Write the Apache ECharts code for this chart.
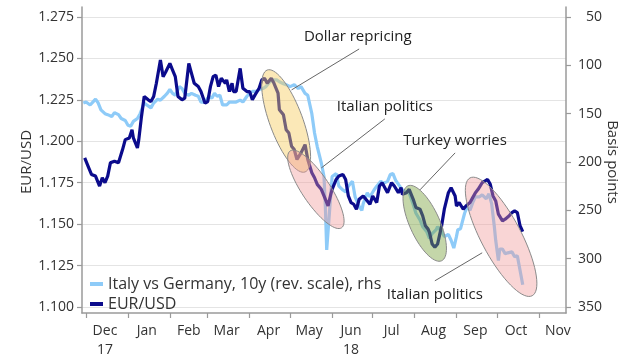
<!DOCTYPE html>
<html><head><meta charset="utf-8">
<script src="https://cdn.jsdelivr.net/npm/echarts@6/dist/echarts.min.js"></script>
<style>html,body{margin:0;padding:0;background:#fff}#c{width:640px;height:360px}</style>
</head><body><div id="c"></div>
<script>
// ---- data ----
const eurDates = ['2017-11-30','2017-12-03','2017-12-05','2017-12-08','2017-12-11','2017-12-13','2017-12-15','2017-12-17','2017-12-19','2017-12-22','2017-12-25','2017-12-28','2017-12-30',
'2018-01-02','2018-01-04','2018-01-05','2018-01-08','2018-01-09','2018-01-11','2018-01-13','2018-01-16','2018-01-18','2018-01-20','2018-01-22','2018-01-25','2018-01-27','2018-01-29',
'2018-02-01','2018-02-03','2018-02-05','2018-02-07','2018-02-10','2018-02-12','2018-02-15','2018-02-17','2018-02-19','2018-02-22','2018-02-24','2018-02-27',
'2018-03-01','2018-03-03','2018-03-05','2018-03-07','2018-03-09','2018-03-11','2018-03-14','2018-03-15','2018-03-17','2018-03-19','2018-03-20','2018-03-22','2018-03-25','2018-03-27','2018-03-30',
'2018-04-01','2018-04-03','2018-04-05','2018-04-08','2018-04-10','2018-04-12','2018-04-14','2018-04-17','2018-04-19','2018-04-22','2018-04-23','2018-04-26','2018-04-28','2018-04-30',
'2018-05-02','2018-05-04','2018-05-06','2018-05-09','2018-05-12','2018-05-14','2018-05-17','2018-05-19','2018-05-21','2018-05-24','2018-05-26','2018-05-29','2018-05-31',
'2018-06-01','2018-06-04','2018-06-06','2018-06-09','2018-06-11','2018-06-13','2018-06-15','2018-06-17','2018-06-19','2018-06-21','2018-06-24','2018-06-26','2018-06-29',
'2018-07-01','2018-07-04','2018-07-06','2018-07-08','2018-07-10','2018-07-12','2018-07-15','2018-07-17','2018-07-20','2018-07-22','2018-07-23','2018-07-26','2018-07-28','2018-07-31',
'2018-08-02','2018-08-05','2018-08-07','2018-08-09','2018-08-11','2018-08-12','2018-08-14','2018-08-16','2018-08-18','2018-08-21','2018-08-23','2018-08-26','2018-08-28','2018-08-31',
'2018-09-01','2018-09-03','2018-09-06','2018-09-08','2018-09-11','2018-09-13','2018-09-15','2018-09-17','2018-09-20','2018-09-22','2018-09-24','2018-09-26','2018-09-28','2018-09-30',
'2018-10-02','2018-10-05','2018-10-07','2018-10-10','2018-10-12','2018-10-14','2018-10-16','2018-10-18','2018-10-20'];
const eurUsd = [1.190,1.184,1.180,1.179,1.173,1.178,1.175,1.179,1.187,1.188,1.187,1.195,1.201,
1.202,1.207,1.202,1.196,1.201,1.215,1.227,1.225,1.224,1.227,1.235,1.249,1.239,1.242,
1.247,1.243,1.239,1.227,1.225,1.226,1.247,1.241,1.235,1.233,1.230,1.223,
1.224,1.233,1.239,1.240,1.233,1.238,1.235,1.237,1.230,1.235,1.230,1.230,1.244,1.232,1.230,
1.230,1.225,1.228,1.232,1.237,1.238,1.235,1.238,1.235,1.229,1.219,1.216,1.207,1.205,
1.197,1.195,1.189,1.193,1.198,1.189,1.181,1.178,1.174,1.171,1.167,1.161,1.168,
1.171,1.177,1.179,1.180,1.177,1.167,1.163,1.162,1.159,1.165,1.167,1.165,1.162,
1.167,1.163,1.173,1.175,1.172,1.169,1.175,1.173,1.169,1.172,1.168,1.169,1.171,1.165,
1.160,1.159,1.155,1.149,1.147,1.145,1.138,1.136,1.138,1.149,1.159,1.169,1.172,1.167,
1.161,1.163,1.159,1.161,1.163,1.166,1.169,1.171,1.175,1.176,1.177,1.174,1.167,1.164,
1.156,1.152,1.153,1.155,1.157,1.158,1.157,1.149,1.1455];

const spreadDates = ['2017-11-29','2017-12-01','2017-12-04','2017-12-06','2017-12-08','2017-12-10','2017-12-12','2017-12-15','2017-12-17','2017-12-20','2017-12-22','2017-12-25','2017-12-27','2017-12-30',
'2018-01-01','2018-01-03','2018-01-05','2018-01-08','2018-01-10','2018-01-13','2018-01-15','2018-01-18','2018-01-20','2018-01-23','2018-01-25','2018-01-28','2018-01-30',
'2018-02-01','2018-02-03','2018-02-05','2018-02-08','2018-02-10','2018-02-12','2018-02-15','2018-02-17','2018-02-20','2018-02-22','2018-02-24','2018-02-27',
'2018-03-02','2018-03-04','2018-03-06','2018-03-08','2018-03-10','2018-03-12','2018-03-15','2018-03-17','2018-03-20','2018-03-22','2018-03-25','2018-03-27','2018-03-30',
'2018-04-01','2018-04-03','2018-04-06','2018-04-08','2018-04-11','2018-04-13','2018-04-16','2018-04-18','2018-04-21','2018-04-23','2018-04-26','2018-04-28',
'2018-05-01','2018-05-04','2018-05-07','2018-05-09','2018-05-12','2018-05-14','2018-05-17','2018-05-19','2018-05-21','2018-05-24','2018-05-26','2018-05-27','2018-05-28','2018-05-30',
'2018-06-01','2018-06-04','2018-06-06','2018-06-09','2018-06-11','2018-06-13','2018-06-16','2018-06-18','2018-06-21','2018-06-23','2018-06-24','2018-06-27','2018-06-29',
'2018-07-02','2018-07-04','2018-07-07','2018-07-09','2018-07-12','2018-07-14','2018-07-16','2018-07-18','2018-07-21','2018-07-23','2018-07-26','2018-07-28','2018-07-31',
'2018-08-02','2018-08-05','2018-08-07','2018-08-10','2018-08-12','2018-08-14','2018-08-17','2018-08-18','2018-08-21','2018-08-23','2018-08-26','2018-08-28','2018-08-30',
'2018-09-01','2018-09-02','2018-09-04','2018-09-07','2018-09-09','2018-09-11','2018-09-13','2018-09-15','2018-09-18','2018-09-20','2018-09-23','2018-09-25','2018-09-27','2018-09-29','2018-09-30',
'2018-10-02','2018-10-03','2018-10-05','2018-10-07','2018-10-09','2018-10-10','2018-10-12','2018-10-14','2018-10-16','2018-10-18','2018-10-20'];
const spreadBp = [139,138,141,138,135,139,146,150,151,153,149,151,155,157,
162,163,158,155,150,139,141,144,139,135,136,132,129,
125,129,131,122,124,129,131,129,131,132,138,138,
132,134,129,132,131,141,141,138,138,138,136,138,132,
129,127,127,125,124,122,117,115,115,117,119,120,
122,120,124,122,129,131,150,170,184,201,215,246,291,253,
215,212,225,229,231,225,220,236,246,250,243,232,236,
229,225,220,222,220,213,212,219,225,229,231,232,244,
253,260,267,272,279,274,270,267,272,277,275,281,289,
277,270,269,253,246,250,242,236,236,234,238,233,243,267,281,
302,290,290,295,294,295,293,298,297,312,327];

const seriesNames = ['Italy vs Germany, 10y (rev. scale), rhs', 'EUR/USD'];
const leftTicks = {min: 1.100, max: 1.275, step: 0.025};
const rightTicks = {min: 50, max: 350, step: 50};
const xRange = ['2017-11-28', '2018-11-21'];
const monthNames = ['Jan','Feb','Mar','Apr','May','Jun','Jul','Aug','Sep','Oct','Nov','Dec'];
const yearTagged = {'2017-12': 'Dec\n17', '2018-06': 'Jun\n18'};

// annotations, anchored in data space (date, EUR/USD)
const ellipses = [
  {from: ['2018-04-14', 1.243], to: ['2018-05-12', 1.1815], half: 16.5, fill: 'rgba(246,205,95,0.45)'},
  {from: ['2018-05-01', 1.1942], to: ['2018-06-08', 1.1478], half: 14, fill: 'rgba(240,150,150,0.4)'},
  {from: ['2018-07-27', 1.1731], to: ['2018-08-21', 1.1279], half: 15, fill: 'rgba(125,165,65,0.45)'},
  {from: ['2018-09-11', 1.1779], to: ['2018-10-27', 1.1068], half: 20, fill: 'rgba(240,150,150,0.4)'}
];
const callouts = [
  {text: 'Dollar repricing', at: ['2018-06-20', 1.2629], from: ['2018-06-21', 1.2557], to: ['2018-05-02', 1.2310]},
  {text: 'Italian politics', at: ['2018-07-10', 1.2207], from: ['2018-07-10', 1.2135], to: ['2018-05-24', 1.1839]},
  {text: 'Turkey worries', at: ['2018-08-31', 1.2002], from: ['2018-08-31', 1.1930], to: ['2018-08-05', 1.1707]},
  {text: 'Italian politics', at: ['2018-08-16', 1.1074], from: ['2018-08-16', 1.1158], to: ['2018-09-20', 1.1327]}
];

// ---- build ----
const FONT = '"Open Sans", "Noto Sans", sans-serif';
const pd = s => +echarts.number.parseDate(s);
function fmt(d){const m=d.getMonth()+1, dd=d.getDate();return d.getFullYear()+'-'+(m<10?'0':'')+m+'-'+(dd<10?'0':'')+dd;}
const days = [];
{ const d = new Date(2017,10,28), end = new Date(2018,10,21);
  while (d <= end) { days.push(fmt(d)); d.setDate(d.getDate()+1); } }

const chart = echarts.init(document.getElementById('c'), null, {renderer: 'canvas'});
const axisColor = '#9a9a9a';
const option = {
  animation: false,
  backgroundColor: '#fff',
  textStyle: {fontFamily: FONT},
  grid: [
    {left: 82, right: 74, top: 17, bottom: 53},
    {left: 82, right: 74, top: 7, bottom: 44}
  ],
  legend: {
    left: 85, top: 271, orient: 'vertical', icon: 'rect', itemWidth: 13, itemHeight: 4,
    itemGap: 4, selectedMode: false, data: seriesNames,
    textStyle: {fontSize: 16, color: '#333', fontFamily: FONT}
  },
  xAxis: [
    {type: 'time', gridIndex: 0, min: pd(xRange[0]), max: pd(xRange[1]), show: false},
    {type: 'category', gridIndex: 1, data: days, boundaryGap: false,
     axisLine: {lineStyle: {color: axisColor, width: 1.5}},
     axisTick: {length: 5, lineStyle: {color: axisColor, width: 1.2}, interval: (i, v) => v.slice(8) === '01'},
     axisLabel: {interval: (i, v) => v.slice(8) === '15', margin: 9, color: '#333', fontSize: 14, lineHeight: 19, fontFamily: FONT,
       formatter: v => yearTagged[v.slice(0,7)] || monthNames[+v.slice(5,7)-1]},
     splitLine: {show: false}}
  ],
  yAxis: [
    {type: 'value', gridIndex: 0, position: 'left', min: leftTicks.min, max: leftTicks.max, interval: leftTicks.step,
     axisLine: {show: false}, axisTick: {show: true, length: 5, lineStyle: {color: axisColor, width: 1.2}},
     axisLabel: {formatter: v => v.toFixed(3), color: '#333', fontSize: 14, margin: 8, fontFamily: FONT},
     splitLine: {show: true, lineStyle: {color: '#e4e4e4', width: 1.2}},
     name: 'EUR/USD', nameLocation: 'middle', nameGap: 48, nameMoveOverlap: false,
     nameTextStyle: {fontSize: 15, color: '#333', fontFamily: FONT}},
    {type: 'value', gridIndex: 0, position: 'right', inverse: true, min: rightTicks.min, max: rightTicks.max, interval: rightTicks.step,
     axisLine: {show: false}, axisTick: {show: true, length: 5, lineStyle: {color: axisColor, width: 1.2}},
     axisLabel: {color: '#333', fontSize: 14, margin: 36, align: 'right', fontFamily: FONT},
     splitLine: {show: false},
     name: 'Basis points', nameLocation: 'middle', nameRotate: -90, nameGap: 39, nameMoveOverlap: false,
     nameTextStyle: {fontSize: 15, color: '#333', fontFamily: FONT}},
    {type: 'value', gridIndex: 1, position: 'left', axisLine: {show: true, lineStyle: {color: axisColor, width: 1.5}},
     axisTick: {show: false}, axisLabel: {show: false}, splitLine: {show: false}},
    {type: 'value', gridIndex: 1, position: 'right', axisLine: {show: true, lineStyle: {color: axisColor, width: 1.5}},
     axisTick: {show: false}, axisLabel: {show: false}, splitLine: {show: false}}
  ],
  series: [
    {name: seriesNames[0], type: 'line', xAxisIndex: 0, yAxisIndex: 1, showSymbol: false, z: 2,
     data: spreadDates.map((d, i) => [pd(d), spreadBp[i]]),
     lineStyle: {color: '#8ecbf8', width: 3.2}, itemStyle: {color: '#8ecbf8'}},
    {name: seriesNames[1], type: 'line', xAxisIndex: 0, yAxisIndex: 0, showSymbol: false, z: 3,
     data: eurDates.map((d, i) => [pd(d), eurUsd[i]]),
     lineStyle: {color: '#0b0b8c', width: 3.2}, itemStyle: {color: '#0b0b8c'}}
  ]
};
chart.setOption(option);

const toPx = p => chart.convertToPixel({xAxisIndex: 0, yAxisIndex: 0}, [pd(p[0]), p[1]]);
const graphics = [];
ellipses.forEach(e => {
  const a = toPx(e.from), b = toPx(e.to);
  const cx = (a[0]+b[0])/2, cy = (a[1]+b[1])/2;
  const dx = b[0]-a[0], dy = b[1]-a[1];
  const L = Math.hypot(dx, dy)/2, ang = Math.atan2(dy, dx);
  const pts = [];
  for (let k = 0; k < 72; k++) {
    const t = k/72*Math.PI*2, u = L*Math.cos(t), v = e.half*Math.sin(t);
    pts.push([cx + u*Math.cos(ang) - v*Math.sin(ang), cy + u*Math.sin(ang) + v*Math.cos(ang)]);
  }
  graphics.push({type: 'polygon', z: 50, shape: {points: pts}, style: {fill: e.fill, stroke: '#8a8a8a', lineWidth: 1}});
});
callouts.forEach(c => {
  const f = toPx(c.from), t = toPx(c.to), at = toPx(c.at);
  graphics.push({type: 'line', z: 60, shape: {x1: f[0], y1: f[1], x2: t[0], y2: t[1]}, style: {stroke: '#666', lineWidth: 1}});
  graphics.push({type: 'text', z: 61, x: at[0], y: at[1], style: {text: c.text, fill: '#222', font: '15px ' + FONT, align: 'center', verticalAlign: 'middle', textAlign: 'center', textVerticalAlign: 'middle'}});
});
chart.setOption({graphic: graphics});
</script></body></html>
